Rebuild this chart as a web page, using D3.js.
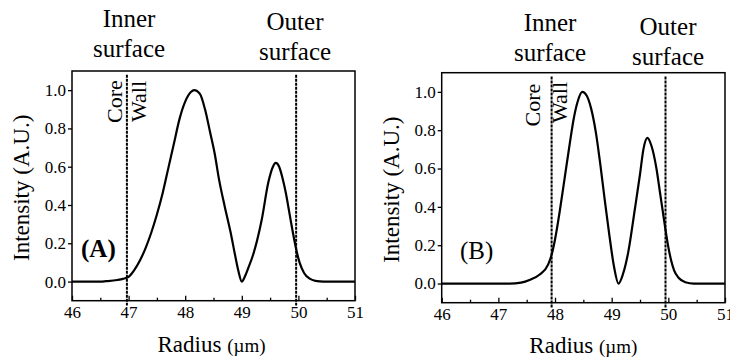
<!DOCTYPE html>
<html>
<head>
<meta charset="utf-8">
<script src="https://cdnjs.cloudflare.com/ajax/libs/d3/7.8.5/d3.min.js"></script>
<style>
body { margin: 0; background: #fff; }
svg text { font-family: "Liberation Serif", "Times New Roman", serif; fill: #000; }
</style>
</head>
<body>
<svg id="chart" width="730" height="358"></svg>
<script>
// panel A profile
var radiusA = [46.0, 46.5, 46.6, 46.8, 46.9, 47.0, 47.1, 47.2, 47.3, 47.4, 47.5, 47.6, 47.7, 47.8, 47.9, 48.0, 48.1, 48.16,
    48.26, 48.35, 48.44, 48.52, 48.6, 48.7, 48.8, 48.88, 48.94, 49.0, 49.06, 49.12, 49.2, 49.35, 49.47, 49.55, 49.6,
    49.66, 49.72, 49.78, 49.84, 49.9, 49.96, 50.02, 50.1, 50.2, 50.3, 50.45, 51.0];
var intensityA = [0, 0, 0.002, 0.008, 0.014, 0.025, 0.06, 0.11, 0.175, 0.255, 0.35, 0.46, 0.59, 0.72, 0.85, 0.94, 0.99, 1.0,
    0.98, 0.9, 0.78, 0.67, 0.53, 0.39, 0.26, 0.14, 0.055, 0.0, 0.03, 0.075, 0.14, 0.32, 0.52, 0.6, 0.62,
    0.6, 0.54, 0.46, 0.36, 0.26, 0.17, 0.1, 0.045, 0.015, 0.004, 0, 0];

// panel B profile
var radiusB = [46.0, 47.2, 47.4, 47.56, 47.73, 47.88, 47.94, 48.0, 48.09, 48.17, 48.26, 48.33, 48.4, 48.48, 48.56,
    48.64, 48.72, 48.8, 48.88, 48.96, 49.04, 49.12, 49.2, 49.29, 49.41, 49.5, 49.56, 49.63, 49.7, 49.79,
    49.85, 49.9, 49.95, 50.0, 50.05, 50.1, 50.18, 50.3, 50.45, 51.0];
var intensityB = [0, 0, 0.005, 0.02, 0.047, 0.1, 0.15, 0.23, 0.39, 0.55, 0.73, 0.86, 0.95, 1.0, 0.98,
    0.91, 0.79, 0.62, 0.43, 0.25, 0.09, 0.0, 0.05, 0.16, 0.39, 0.57, 0.7, 0.76, 0.72, 0.6,
    0.48, 0.38, 0.28, 0.19, 0.12, 0.07, 0.03, 0.007, 0, 0];

// inner / outer surface positions
var surfacesA = [46.97, 49.96];
var surfacesB = [47.94, 49.95];

var xTicks = [46, 47, 48, 49, 50, 51];
var xMinor = [46.5, 47.5, 48.5, 49.5, 50.5];
var yTicks = [0, 0.2, 0.4, 0.6, 0.8, 1.0];

var svg = d3.select("#chart");
var serif = '"Liberation Serif", "Times New Roman", serif';

function drawPanel(p, radius, intensity, surfaces) {
    var x = d3.scaleLinear().domain([46, 51]).range([p.left, p.right]);
    var y = d3.scaleLinear().domain([-0.1, 1.1]).range([p.bottom, p.top]);
    var g = svg.append("g");

    //axes
    var axisX = d3.axisBottom(x).tickValues(xTicks).tickFormat(d3.format("d")).tickSize(-5).tickPadding(5);
    var gx = g.append("g")
        .attr("transform", "translate(0," + p.bottom + ")")
        .call(axisX);
    var gm = g.append("g")
        .attr("transform", "translate(0," + p.bottom + ")")
        .call(d3.axisBottom(x).tickValues(xMinor).tickFormat("").tickSize(-3));
    var axisY = d3.axisLeft(y).tickValues(yTicks).tickFormat(d3.format(".1f")).tickSize(4).tickPadding(2);
    var gy = g.append("g")
        .attr("transform", "translate(" + p.left + ",0)")
        .call(axisY);
    [gx, gm, gy].forEach(function(a){
        a.select(".domain").remove();
        a.attr("font-family", serif).attr("font-size", 17);
        a.selectAll("line").attr("stroke-width", 1.3);
    });

    //frame
    g.append("rect")
        .attr("x", p.left).attr("y", p.top)
        .attr("width", p.right - p.left).attr("height", p.bottom - p.top)
        .attr("fill", "none").attr("stroke", "#000").attr("stroke-width", 1.5);

    //surface lines
    g.selectAll(".surf")
        .data(surfaces)
        .enter()
        .append("line")
        .attr("x1", function(d){ return x(d); })
        .attr("x2", function(d){ return x(d); })
        .attr("y1", y(1.08))
        .attr("y2", y(-0.125))
        .attr("stroke", "#000")
        .attr("stroke-width", 2)
        .attr("stroke-dasharray", "3,1");

    //profile
    var pts = radius.map(function(r, i){ return [r, intensity[i]]; });
    var line = d3.line()
        .x(function(d){ return x(d[0]); })
        .y(function(d){ return y(d[1]); })
        .curve(d3.curveMonotoneX);
    g.append("path")
        .attr("d", line(pts))
        .attr("fill", "none")
        .attr("stroke", "#000")
        .attr("stroke-width", 2.2);

    //labels
    var mid = (p.left + p.right) / 2;
    var xl = g.append("text")
        .attr("x", mid + p.xlabDx).attr("y", p.xlabY)
        .attr("text-anchor", "middle")
        .attr("font-size", 23)
        .text("Radius ");
    xl.append("tspan").attr("font-size", 19).text("(\u00b5m)");

    g.append("text")
        .attr("transform", "translate(" + p.ylabX + "," + ((p.top + p.bottom) / 2 + 2) + ") rotate(-90)")
        .attr("text-anchor", "middle")
        .attr("font-size", 23)
        .text("Intensity (A.U.)");

    g.append("text")
        .attr("x", p.tagX).attr("y", p.tagY)
        .attr("font-size", 25)
        .attr("font-weight", p.tagBold ? "bold" : "normal")
        .text(p.tag);

    g.append("text")
        .attr("transform", "translate(" + p.coreX + "," + p.coreY + ") rotate(-90)")
        .attr("font-size", 22)
        .text("Core");
    g.append("text")
        .attr("transform", "translate(" + p.wallX + "," + p.wallY + ") rotate(-90)")
        .attr("font-size", 22)
        .text("Wall");

    p.heads.forEach(function(h){
        var t = g.append("text")
            .attr("x", h.x).attr("y", h.y)
            .attr("text-anchor", "middle")
            .attr("font-size", 25);
        t.append("tspan").attr("x", h.x).text(h.l1);
        t.append("tspan").attr("x", h.x).attr("dy", 30).text("surface");
    });
}

drawPanel({left: 72, right: 355, top: 71, bottom: 300.7,
    xlabY: 352, xlabDx: -2, ylabX: 29,
    tag: "(A)", tagX: 81, tagY: 257, tagBold: true,
    coreX: 121.5, coreY: 123, wallX: 146, wallY: 122,
    heads: [{x: 129, y: 27, l1: "Inner"}, {x: 295, y: 30, l1: "Outer"}]
}, radiusA, intensityA, surfacesA);

drawPanel({left: 441.7, right: 725, top: 72.7, bottom: 302.7,
    xlabY: 353, xlabDx: 0, ylabX: 399,
    tag: "(B)", tagX: 460, tagY: 259, tagBold: false,
    coreX: 540, coreY: 126.5, wallX: 567, wallY: 123,
    heads: [{x: 550, y: 31, l1: "Inner"}, {x: 668, y: 35, l1: "Outer"}]
}, radiusB, intensityB, surfacesB);
</script>
</body>
</html>
